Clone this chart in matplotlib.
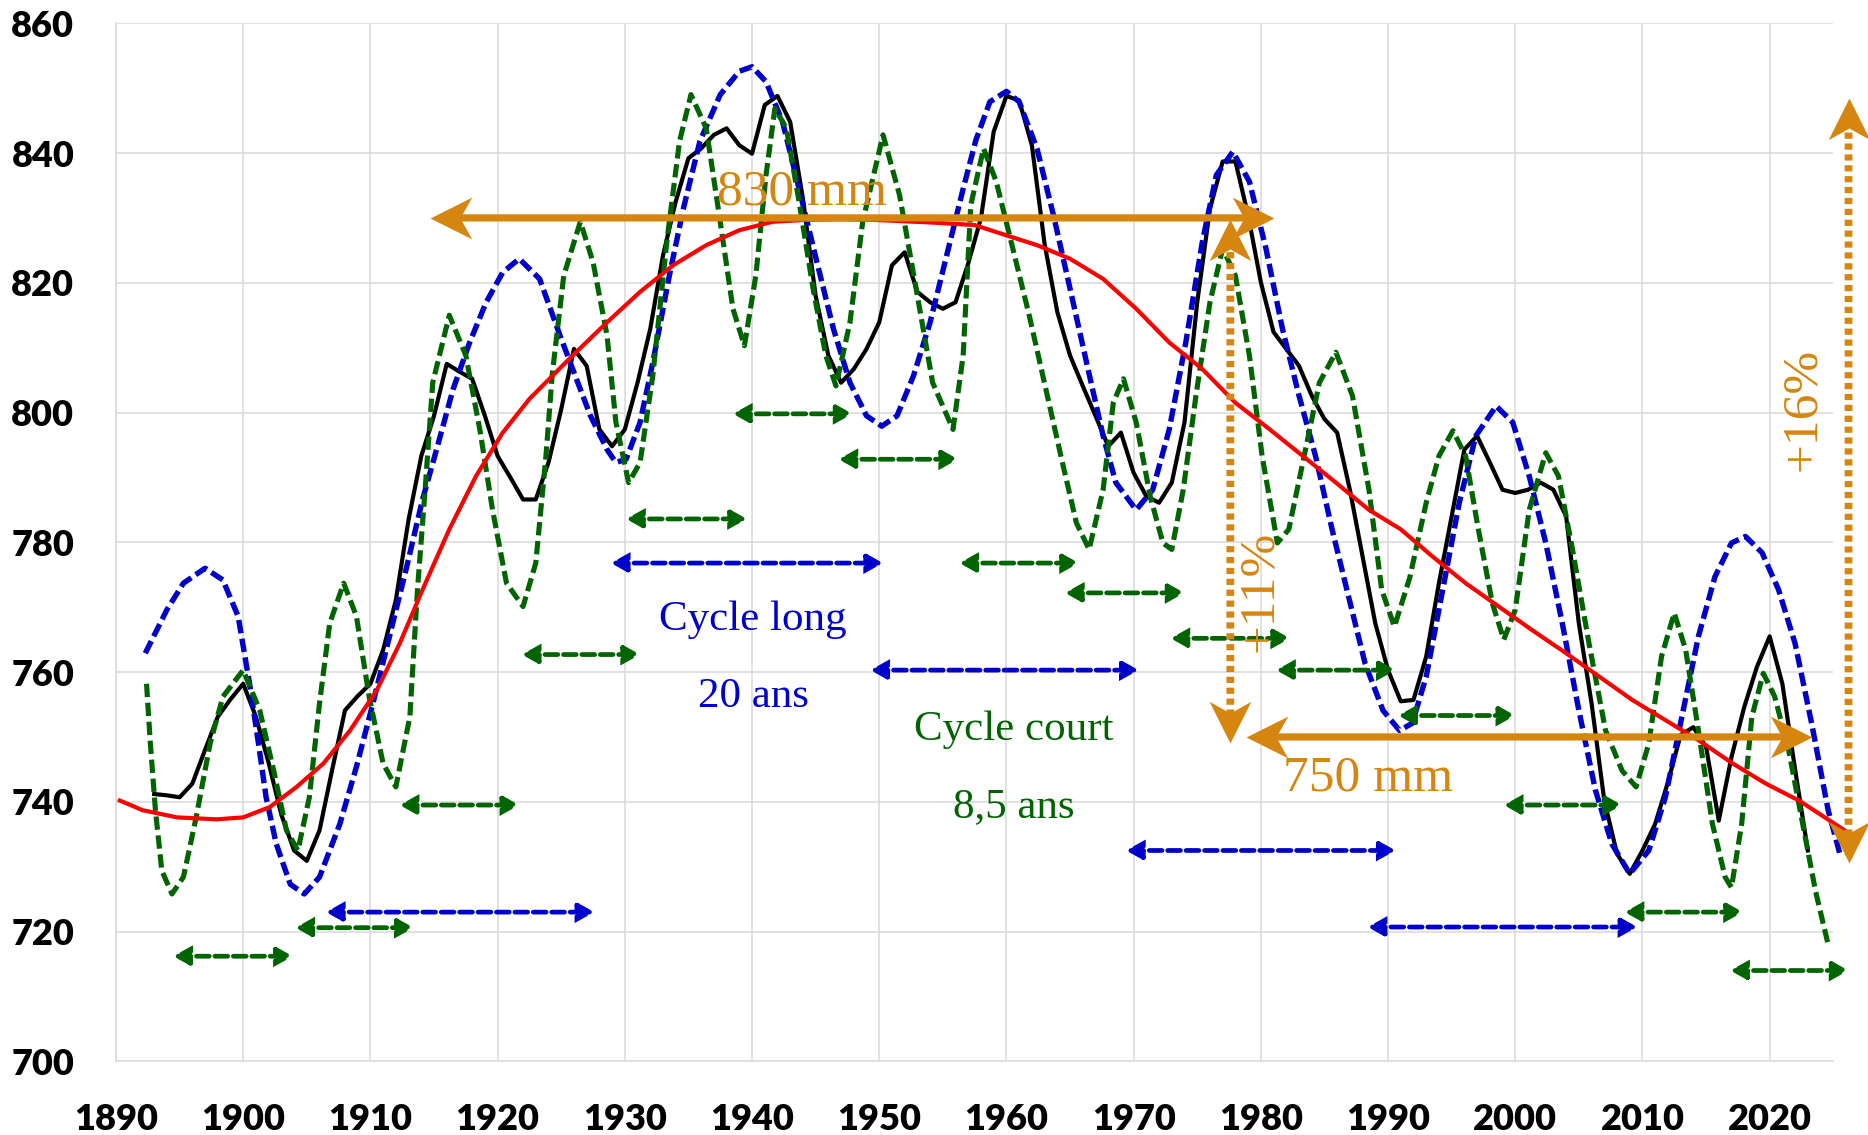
import numpy as np
import matplotlib.pyplot as plt
from matplotlib.path import Path
from matplotlib.markers import MarkerStyle
from matplotlib.transforms import Affine2D

# annual rainfall (mm), smoothed series
years = list(range(1893, 2024))
rain = [741.2, 741.0, 740.7, 742.8, 748.0, 753.1, 755.8, 758.2, 753.1, 746.0,
        738.0, 732.5, 730.9, 735.6, 745.0, 754.1, 756.3, 758.2, 763.4, 771.1,
        783.5, 793.3, 799.5, 807.5, 806.3, 805.2, 799.5, 793.3, 790.0, 786.6,
        786.6, 792.3, 800.5, 809.8, 807.2, 797.4, 794.8, 797.4, 804.6, 812.9,
        824.2, 832.5, 839.2, 840.7, 842.8, 843.8, 841.2, 839.9, 847.4, 848.8,
        844.8, 833.0, 818.0, 808.8, 804.6, 806.7, 809.8, 813.9, 822.7, 824.7,
        818.6, 817.0, 816.0, 817.0, 823.0, 830.0, 843.3, 848.8, 848.1, 841.2,
        826.0, 815.5, 808.8, 804.1, 799.5, 794.8, 796.9, 790.7, 787.1, 786.1,
        789.2, 798.5, 817.0, 831.4, 838.7, 838.7, 830.4, 820.1, 812.4, 809.8,
        807.2, 802.6, 799.0, 796.9, 788.1, 777.8, 767.5, 760.3, 755.5, 755.7,
        762.4, 773.7, 784.0, 794.3, 796.4, 792.3, 788.1, 787.6, 788.1, 789.2,
        788.1, 784.0, 767.5, 755.2, 740.2, 732.0, 728.9, 732.5, 736.6, 743.0,
        750.3, 751.5, 748.5, 737.1, 746.9, 754.6, 760.8, 765.5, 758.2, 745.0,
        732.5]

# long cycle (20 years)
long_x = [1892.3, 1894.0, 1895.3, 1897.0, 1898.4, 1899.6, 1900.5, 1901.2, 1901.8, 1902.6,
          1903.7, 1904.8, 1906.0, 1907.6, 1908.9, 1910.2, 1911.5, 1912.8, 1914.1, 1915.2,
          1916.5, 1917.8, 1919.1, 1920.4, 1921.7, 1923.3, 1924.9, 1925.9, 1927.3, 1928.6,
          1929.3, 1930.1, 1931.2, 1932.2, 1933.5, 1934.6, 1935.9, 1937.5, 1939.0, 1940.0,
          1941.1, 1942.4, 1943.7, 1945.1, 1946.4, 1947.7, 1949.0, 1950.2, 1951.4, 1952.7,
          1954.0, 1955.3, 1956.6, 1957.6, 1958.7, 1960.0, 1961.0, 1962.4, 1963.7, 1965.0,
          1966.3, 1967.6, 1968.6, 1970.2, 1971.5, 1972.8, 1974.1, 1975.4, 1976.5, 1977.8,
          1979.1, 1980.4, 1981.7, 1983.0, 1984.3, 1985.6, 1986.9, 1988.2, 1989.6, 1990.9,
          1991.9, 1993.0, 1994.3, 1995.6, 1996.9, 1998.5, 1999.8, 2001.1, 2002.4, 2003.7,
          2005.0, 2006.3, 2007.6, 2009.0, 2010.5, 2011.8, 2013.1, 2014.4, 2015.7, 2017.0,
          2018.1, 2019.4, 2020.7, 2022.0, 2023.3, 2024.6, 2025.6]
long_y = [762.9, 769.6, 773.7, 776.0, 774.2, 768.6, 758.2, 749.0, 740.7, 733.5,
          727.3, 725.8, 728.4, 736.6, 745.4, 755.2, 765.5, 775.8, 786.6, 794.3,
          803.6, 810.8, 817.0, 821.6, 823.7, 820.6, 811.9, 806.7, 799.5, 794.3,
          792.3, 792.8, 798.5, 807.7, 821.1, 831.4, 841.8, 849.0, 852.6, 853.3,
          851.0, 844.8, 834.5, 823.2, 812.9, 804.6, 799.5, 797.9, 799.5, 805.7,
          813.9, 824.2, 834.5, 842.0, 847.9, 849.5, 847.9, 840.7, 830.4, 819.1,
          807.7, 796.4, 789.2, 785.0, 788.1, 797.4, 810.8, 826.3, 836.6, 840.2,
          835.6, 825.3, 812.9, 802.6, 793.3, 782.0, 771.6, 761.3, 754.1, 751.0,
          752.1, 759.3, 772.7, 786.1, 796.4, 801.0, 798.5, 790.2, 779.9, 767.5,
          754.1, 741.8, 733.5, 728.9, 732.5, 740.7, 753.1, 765.5, 774.7, 779.9,
          780.9, 778.4, 772.7, 764.4, 752.1, 738.7, 731.4]

# short cycle (8,5 years)
short_x = [1892.4, 1892.7, 1893.1, 1893.6, 1894.4, 1895.3, 1896.3, 1897.4, 1898.4, 1900.0,
           1901.3, 1902.4, 1903.4, 1904.3, 1905.2, 1906.0, 1906.8, 1907.9, 1908.9, 1909.9,
           1911.0, 1912.0, 1913.1, 1913.7, 1914.3, 1914.9, 1916.2, 1917.5, 1918.6, 1919.6,
           1920.7, 1922.0, 1923.0, 1923.8, 1924.3, 1925.2, 1926.5, 1927.5, 1928.6, 1929.3,
           1930.3, 1931.2, 1932.2, 1933.3, 1934.3, 1935.2, 1936.4, 1937.5, 1938.5, 1939.4,
           1940.3, 1941.1, 1941.8, 1942.7, 1943.7, 1944.8, 1945.8, 1946.6, 1947.7, 1948.7,
           1950.3, 1951.6, 1952.9, 1954.2, 1955.8, 1956.6, 1957.2, 1958.2, 1959.2, 1960.5,
           1961.8, 1963.1, 1964.4, 1965.5, 1966.5, 1967.6, 1968.4, 1969.2, 1970.2, 1971.3,
           1972.3, 1973.0, 1973.9, 1974.9, 1976.0, 1977.0, 1978.0, 1979.1, 1980.1, 1981.3,
           1982.2, 1983.3, 1984.6, 1985.9, 1987.2, 1988.5, 1989.5, 1990.5, 1991.7, 1993.0,
           1994.0, 1995.1, 1996.1, 1997.1, 1998.2, 1999.1, 2000.0, 2001.1, 2002.4, 2003.4,
           2004.5, 2005.8, 2007.1, 2008.4, 2009.5, 2010.5, 2011.5, 2012.5, 2013.4, 2014.4,
           2015.5, 2016.5, 2017.0, 2017.8, 2018.6, 2019.5, 2020.4, 2021.5, 2022.5, 2023.6,
           2024.6]
short_y = [758.2, 749.0, 738.7, 729.4, 725.8, 728.4, 737.6, 749.0, 756.2, 760.3,
           754.1, 744.8, 735.6, 732.5, 740.7, 755.2, 767.5, 773.7, 768.6, 756.2,
           745.9, 742.3, 753.1, 772.7, 788.1, 804.6, 815.0, 808.8, 797.4, 785.0,
           773.7, 770.1, 776.8, 793.3, 806.0, 821.1, 829.4, 823.2, 811.9, 798.5,
           789.2, 792.3, 805.7, 826.3, 841.8, 849.0, 843.8, 829.4, 816.0, 810.3,
           821.1, 836.6, 846.9, 843.8, 832.5, 819.1, 808.8, 804.1, 813.9, 829.4,
           842.8, 833.5, 819.1, 804.6, 797.4, 808.8, 832.0, 840.7, 835.6, 825.3,
           814.9, 803.6, 792.3, 783.0, 778.9, 788.1, 801.5, 805.2, 798.5, 787.1,
           779.9, 778.9, 788.1, 802.6, 817.0, 825.3, 821.1, 808.8, 793.3, 779.9,
           782.0, 792.3, 804.6, 809.3, 802.6, 788.1, 772.7, 767.0, 774.5, 786.1,
           793.3, 797.2, 793.3, 782.0, 770.6, 765.0, 769.6, 785.0, 793.8, 790.2,
           778.9, 764.4, 751.0, 744.8, 742.3, 749.0, 762.4, 769.1, 763.4, 751.0,
           736.6, 728.4, 726.8, 736.6, 753.1, 759.8, 756.2, 747.9, 737.6, 726.3,
           718.0]

# polynomial trend
trend_x = [1890.3, 1892.1, 1894.8, 1897.9, 1900.0, 1902.1, 1904.2, 1906.3, 1908.4, 1910.5,
           1912.3, 1914.1, 1916.2, 1918.3, 1920.4, 1922.5, 1925.9, 1928.6, 1931.2, 1933.8,
           1936.4, 1939.0, 1941.6, 1944.2, 1946.9, 1949.5, 1954.0, 1957.5, 1959.7, 1962.4,
           1965.0, 1967.6, 1970.2, 1972.8, 1975.4, 1978.0, 1980.7, 1983.3, 1985.9, 1988.5,
           1991.0, 1993.5, 1996.1, 1998.7, 2001.3, 2004.0, 2006.6, 2009.2, 2011.8, 2014.4,
           2017.1, 2019.7, 2022.3, 2025.9]
trend_y = [740.2, 738.7, 737.6, 737.3, 737.6, 739.2, 742.3, 745.9, 751.0, 757.2,
           764.4, 772.7, 782.0, 790.2, 796.9, 802.1, 808.8, 813.9, 818.6, 822.7,
           825.8, 828.1, 829.4, 829.7, 829.8, 829.7, 829.3, 828.9, 827.5, 825.8,
           823.7, 820.6, 816.0, 810.8, 806.7, 801.5, 797.4, 793.3, 789.2, 785.0,
           782.0, 777.8, 773.7, 770.1, 766.5, 762.9, 759.3, 755.7, 752.6, 749.5,
           745.9, 742.8, 740.2, 735.6]

# cycle spans drawn as arrows: (start, end, level)
long_spans = [(1906.5, 1927.6, 723.0), (1928.9, 1950.3, 776.8), (1949.3, 1970.4, 760.3),
              (1969.4, 1990.6, 732.5), (1988.4, 2009.6, 720.7)]
short_spans = [(1894.5, 1903.9, 716.2), (1904.1, 1913.4, 720.6), (1912.3, 1921.7, 739.5),
               (1921.9, 1931.2, 762.7), (1930.1, 1939.6, 783.6), (1938.5, 1947.9, 799.8),
               (1946.8, 1956.2, 792.8), (1956.3, 1965.7, 776.8), (1964.6, 1974.0, 772.2),
               (1972.9, 1982.3, 765.2), (1981.2, 1990.6, 760.3), (1990.8, 2000.0, 753.3),
               (1999.1, 2008.4, 739.5), (2008.6, 2017.9, 723.0), (2016.9, 2026.2, 714.0)]

blue = '#0000CC'
green = '#006400'
orange = '#D6860F'
grid_c = '#D9D9D9'

plt.rcParams['font.family'] = ['Lato', 'DejaVu Sans']

fig = plt.figure(figsize=(18.68, 11.35), dpi=100)
ax = fig.add_axes([0.0621, 0.0649, 0.9193, 0.9146])

ax.plot(years, rain, color='black', lw=3.0, zorder=3, clip_on=False)
ax.plot(long_x, long_y, color=blue, lw=3.9, ls=(0, (2.5, 1.0)), zorder=4, clip_on=False)
ax.plot(short_x, short_y, color=green, lw=3.7, ls=(0, (2.6, 1.1)), zorder=5, clip_on=False)
ax.plot(trend_x, trend_y, color='red', lw=3.0, zorder=6, clip_on=False)


def arrow(x0, y0, x1, y1, color, lw, ls, hl, hw, ms):
    ax.annotate('', xy=(x1, y1), xytext=(x0, y0), zorder=8, annotation_clip=False,
                arrowprops=dict(arrowstyle=f'<|-|>,head_length={hl},head_width={hw}',
                                color=color, lw=lw, linestyle=ls, shrinkA=0, shrinkB=0,
                                mutation_scale=ms, joinstyle='miter'))


for x0, x1, y in long_spans:
    arrow(x0, y, x1, y, blue, 3.4, (0, (2.7, 1.2)), 0.45, 0.25, 20)
for x0, x1, y in short_spans:
    arrow(x0, y, x1, y, green, 3.4, (0, (2.7, 1.2)), 0.45, 0.25, 20)

# orange arrows with stealth heads
stealth = Path([(0, 0), (-1, 0.5), (-0.72, 0), (-1, -0.5), (0, 0)],
               [Path.MOVETO, Path.LINETO, Path.LINETO, Path.LINETO, Path.CLOSEPOLY])


def stealth_arrow(x0, y0, x1, y1, lw, ls):
    ax.annotate('', xy=(x1, y1), xytext=(x0, y0), zorder=8, annotation_clip=False,
                arrowprops=dict(arrowstyle='-', color=orange, lw=lw, linestyle=ls,
                                shrinkA=20, shrinkB=20, capstyle='butt'))
    if x1 == x0:
        ang = 90 if y1 > y0 else -90
    else:
        ang = 0 if x1 > x0 else 180
    for (x, y, a) in [(x1, y1, ang), (x0, y0, ang + 180)]:
        m = MarkerStyle(stealth, transform=Affine2D().rotate_deg(a))
        ax.plot([x], [y], marker=m, ms=60, color=orange, mew=0, ls='none',
                zorder=9, clip_on=False)


stealth_arrow(1914.7, 830, 1981.05, 830, 5.2, '-')
stealth_arrow(1978.8, 750, 2023.3, 750, 5.2, '-')
stealth_arrow(1977.6, 749, 1977.6, 829.9, 5.6, (0, (0.8, 0.6)))
stealth_arrow(2026.2, 730.5, 2026.2, 848.5, 5.6, (0, (0.8, 0.6)))

serif = 'Liberation Serif'
ax.text(1943.95, 832, '830 mm', color=orange, fontsize=37, family=serif,
        ha='center', va='baseline', zorder=10)
ax.text(1988.4, 741.8, '750 mm', color=orange, fontsize=37, family=serif,
        ha='center', va='baseline', zorder=10)
ax.text(1979.9, 772.5, '+11%', color=orange, fontsize=37, family=serif, rotation=90,
        ha='center', va='center', zorder=10)
ax.text(2022.6, 800.5, '+16%', color=orange, fontsize=37, family=serif, rotation=90,
        ha='center', va='center', zorder=10)
ax.text(1940.1, 766.5, 'Cycle long', color=blue, fontsize=31, family=serif,
        ha='center', va='baseline', zorder=10)
ax.text(1940.1, 754.6, '20 ans', color=blue, fontsize=31, family=serif,
        ha='center', va='baseline', zorder=10)
ax.text(1960.6, 749.5, 'Cycle court', color=green, fontsize=31, family=serif,
        ha='center', va='baseline', zorder=10)
ax.text(1960.6, 737.6, '8,5 ans', color=green, fontsize=31, family=serif,
        ha='center', va='baseline', zorder=10)

ax.set_xlim(1890, 2025)
ax.set_ylim(700, 860)
ax.set_xticks(range(1890, 2021, 10))
ax.set_yticks(range(700, 861, 20))
ax.tick_params(length=0, labelsize=26, pad=30)
for lab in ax.get_xticklabels() + ax.get_yticklabels():
    lab.set_fontweight('heavy')
ax.grid(color=grid_c, lw=1.1)
ax.set_axisbelow(True)
for s in ['top', 'right']:
    ax.spines[s].set_visible(False)
for s in ['left', 'bottom']:
    ax.spines[s].set_color(grid_c)
    ax.spines[s].set_linewidth(1.1)

fig.savefig('out.png', dpi=100)
